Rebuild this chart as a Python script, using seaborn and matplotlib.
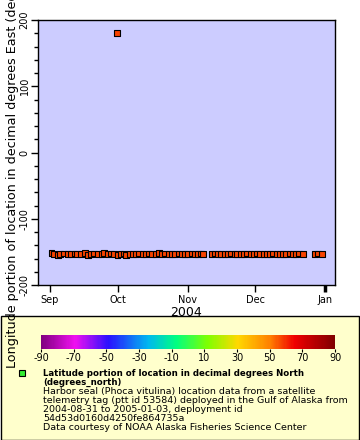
import numpy as np
import pandas as pd
import matplotlib
matplotlib.use("Agg")
import matplotlib.pyplot as plt
import matplotlib.dates as mdates
from matplotlib.colors import LinearSegmentedColormap, Normalize
from matplotlib.cm import ScalarMappable
from matplotlib.patches import Rectangle
from matplotlib.lines import Line2D
import seaborn as sns

# days after 2004-09-01
days = [
    0.6, 1.8, 3.4, 4.5, 6.3, 7.9, 9.2, 10.8, 12.1, 13.6,
    15.4, 16.9, 18.3, 19.6, 21.2, 22.8, 24.1, 25.5, 27.0, 28.4,
    29.7, 29.9, 31.3, 32.9, 33.7, 35.2, 36.8, 38.1, 39.5, 41.0,
    42.6, 43.9, 45.3, 46.9, 48.3, 49.6, 51.1, 52.7, 54.0, 55.5,
    57.0, 58.4, 59.9, 61.3, 62.8, 64.2, 65.6, 67.0, 67.9, 71.6,
    73.0, 74.6, 75.9, 77.4, 78.9, 80.2, 81.8, 83.1, 84.6, 86.0,
    87.5, 88.9, 90.4, 91.8, 93.3, 94.7, 96.1, 97.6, 99.0, 100.5,
    101.9, 103.3, 104.8, 106.2, 107.7, 109.1, 110.5, 112.2, 117.7, 119.0,
    120.6,
]

longitude = [
    -151.6, -152.8, -155.2, -152.8, -152.6, -153.0, -152.8, -152.6, -152.8, -153.0,
    -151.4, -155.0, -152.8, -152.6, -152.8, -153.0, -151.4, -152.8, -152.6, -152.8,
    180.0, -155.0, -152.8, -152.6, -155.2, -152.8, -153.0, -152.8, -152.6, -152.8,
    -152.8, -152.6, -153.0, -152.8, -151.2, -152.8, -152.6, -152.8, -153.0, -152.8,
    -152.6, -152.8, -152.8, -153.0, -152.6, -152.8, -152.8, -152.6, -152.8, -152.8,
    -152.6, -152.8, -153.0, -152.8, -152.8, -152.6, -152.8, -152.8, -153.0, -152.8,
    -152.6, -152.8, -152.8, -152.6, -152.8, -153.0, -152.8, -152.8, -152.6, -152.8,
    -152.8, -153.0, -152.8, -152.6, -152.8, -152.8, -152.6, -152.8, -152.8, -152.6,
    -152.8,
]

latitude = [
    57.6, 57.5, 57.4, 57.5, 57.5, 57.6, 57.5, 57.5, 57.5, 57.6,
    57.6, 57.4, 57.5, 57.5, 57.6, 57.5, 57.6, 57.5, 57.5, 57.5,
    57.5, 57.4, 57.5, 57.6, 57.4, 57.5, 57.5, 57.6, 57.5, 57.5,
    57.5, 57.6, 57.5, 57.5, 57.6, 57.5, 57.5, 57.5, 57.6, 57.5,
    57.5, 57.5, 57.6, 57.5, 57.5, 57.5, 57.6, 57.5, 57.5, 57.5,
    57.6, 57.5, 57.5, 57.5, 57.6, 57.5, 57.5, 57.5, 57.6, 57.5,
    57.5, 57.5, 57.6, 57.5, 57.5, 57.5, 57.6, 57.5, 57.5, 57.5,
    57.6, 57.5, 57.5, 57.5, 57.6, 57.5, 57.5, 57.5, 57.5, 57.6,
    57.5,
]

cbar_ticks = [-90, -70, -50, -30, -10, 10, 30, 50, 70, 90]

legend_title = ["Latitude portion of location in decimal degrees North",
                "(degrees_north)"]
legend_body = [
    "Harbor seal (Phoca vitulina) location data from a satellite",
    "telemetry tag (ptt id 53584) deployed in the Gulf of Alaska from",
    "2004-08-31 to 2005-01-03, deployment id",
    "54d53d0160d4250fe864735a",
    "Data courtesy of NOAA Alaska Fisheries Science Center",
]

# rainbow palette like the one in the reference colour bar
rainbow = LinearSegmentedColormap.from_list("erddap_rainbow", [
    (0.0, "#800080"), (0.115, "#f010f0"), (0.228, "#2a10ff"),
    (0.364, "#00b8f0"), (0.46, "#00ff80"), (0.568, "#80ff00"),
    (0.67, "#ffd800"), (0.78, "#ff8000"), (0.863, "#f00000"),
    (1.0, "#800000"),
])
norm = Normalize(-90, 90)

plt.rcParams["axes.unicode_minus"] = False

start = pd.Timestamp("2004-09-01")
df = pd.DataFrame({
    "time": start + pd.to_timedelta(days, unit="D"),
    "lon": longitude,
    "lat": latitude,
})

W, H = 360, 440
fig = plt.figure(figsize=(3.6, 4.4), dpi=100)
fig.patch.set_facecolor("white")

def px(x0, y0, x1, y1):
    return [x0 / W, 1 - y1 / H, (x1 - x0) / W, (y1 - y0) / H]

# legend background
fig.patches.append(Rectangle((0.5 / W, 0.5 / H), (W - 1.5) / W, (H - 316.5) / H,
                             transform=fig.transFigure, facecolor="#ffffcc",
                             edgecolor="black", linewidth=1, zorder=-1))

ax = fig.add_axes(px(38, 20, 335, 285))
ax.set_facecolor("#ccccff")
sns.scatterplot(data=df, x="time", y="lon", hue="lat", palette=rainbow,
                hue_norm=norm, marker="s", s=17, edgecolor="black",
                linewidth=0.8, legend=False, ax=ax, zorder=3)

ax.set_xlim(pd.Timestamp("2004-08-26 16:00"), pd.Timestamp("2005-01-05 10:00"))
ax.set_ylim(-200, 200)
ax.set_yticks([-200, -100, 0, 100, 200])
ax.set_yticks(np.arange(-200, 201, 20), minor=True)
ax.tick_params(axis="y", which="major", labelsize=7, length=5, width=1,
               direction="out", pad=1)
ax.tick_params(axis="y", which="minor", length=3, width=1, direction="out")
for lab in ax.get_yticklabels():
    lab.set_rotation(90)
    lab.set_va("center")

ax.xaxis.set_major_locator(mdates.MonthLocator())
ax.xaxis.set_major_formatter(mdates.DateFormatter("%b"))
ax.tick_params(axis="x", which="major", labelsize=7, length=5, width=1,
               direction="out", pad=2)
ax.xaxis.get_major_ticks()[-1].tick1line.set_markeredgewidth(2.5)
ax.set_xlabel("2004", fontsize=9, labelpad=1)
ax.set_ylabel("")
for s in ax.spines.values():
    s.set_linewidth(1)
    s.set_color("black")

fig.text(13 / W, 1 - 368 / H,
         "Longitude portion of location in decimal degrees East (degrees_east)",
         rotation=90, ha="center", va="bottom", fontsize=9.2)

# colour bar
cax = fig.add_axes(px(41, 335, 335, 349))
cb = fig.colorbar(ScalarMappable(norm=norm, cmap=rainbow), cax=cax,
                  orientation="horizontal", ticks=cbar_ticks)
cb.outline.set_visible(False)
cax.tick_params(labelsize=7, length=2, width=0.8, pad=1)

# legend entry
fig.add_artist(Line2D([22 / W], [1 - 373 / H], marker="s", markersize=5,
                      markerfacecolor="#33ee33", markeredgecolor="black",
                      markeredgewidth=0.8, transform=fig.transFigure))
y = 373
for t in legend_title:
    fig.text(43 / W, 1 - y / H, t, fontsize=6.2, fontweight="bold",
             ha="left", va="center")
    y += 9
for t in legend_body:
    fig.text(43 / W, 1 - y / H, t, fontsize=6.8, ha="left", va="center")
    y += 9

fig.savefig("out.png", dpi=100)
